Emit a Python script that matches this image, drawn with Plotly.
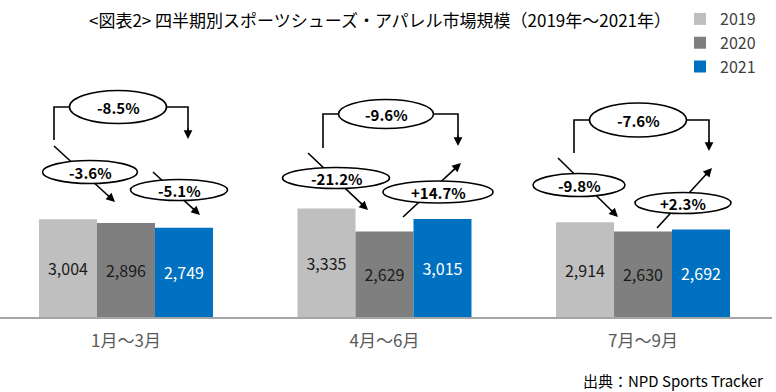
import plotly.graph_objects as go

categories = ["1月～3月", "4月～6月", "7月～9月"]
years = ["2019", "2020", "2021"]
v2019 = [3004, 3335, 2914]
v2020 = [2896, 2629, 2630]
v2021 = [2749, 3015, 2692]
chg_20_vs_19 = ["-3.6%", "-21.2%", "-9.8%"]
chg_21_vs_20 = ["-5.1%", "+14.7%", "+2.3%"]
chg_21_vs_19 = ["-8.5%", "-9.6%", "-7.6%"]

colors = ["#bfbfbf", "#7f7f7f", "#0070c0"]
text_colors = ["#1a1a1a", "#1a1a1a", "#ffffff"]
FONT = "Noto Sans CJK JP"

W, H = 776, 392
ML, MR, MT, MB = 0, 4, 60, 75
PW = W - ML - MR
PH = H - MT - MB
XR = [-0.4874, 2.499]
YMAX = 7908

def dx(px):
    return XR[0] + (px - ML) / PW * (XR[1] - XR[0])

def dy(py):
    return (MT + PH - py) / PH * YMAX

fig = go.Figure()
for name, vals, c, tc in zip(years, [v2019, v2020, v2021], colors, text_colors):
    fig.add_trace(go.Bar(
        x=list(range(len(categories))), y=vals, name=name,
        marker=dict(color=c, line=dict(width=0)),
        texttemplate="%{y:,}", textposition="inside", insidetextanchor="middle",
        textfont=dict(family=FONT, size=16, color=tc),
        cliponaxis=False,
    ))

# decoration layout (pixel estimates) per group
groups = [
    dict(top=(118, 107, 97, 33), bl=(54, 140), br=(188, 139),
         la=((54, 146), (115, 202)), le=(90, 172, 95, 23),
         ra=((153, 172), (200, 215)), re=(179, 190, 97, 21)),
    dict(top=(386, 114, 95, 29), bl=(323, 148), br=(458, 146),
         la=((308, 153), (368, 210)), le=(336, 178, 107, 21),
         ra=((403, 217), (461, 163)), re=(438, 192, 110, 22)),
    dict(top=(638, 120, 97, 34), bl=(574, 153), br=(709, 151),
         la=((558, 158), (618, 217)), le=(579, 185, 92, 23),
         ra=((657, 228), (712, 168)), re=(683, 203, 96, 21)),
]

shapes = []
annotations = []
LW = 1.6

def arrowhead(tail, tip):
    (x0, y0), (x1, y1) = tail, tip
    L = ((x1 - x0) ** 2 + (y1 - y0) ** 2) ** 0.5
    k = 12 / L
    bx, by = x1 - (x1 - x0) * k, y1 - (y1 - y0) * k
    annotations.append(dict(
        x=dx(x1), y=dy(y1), ax=dx(bx), ay=dy(by), xref="x", yref="y",
        axref="x", ayref="y", text="", showarrow=True, arrowhead=2,
        arrowsize=1.1, arrowwidth=LW, arrowcolor="black", standoff=0, startstandoff=0))

def ellipse(cx, cy, w, h, label):
    shapes.append(dict(type="circle", xref="x", yref="y",
                       x0=dx(cx - w / 2), x1=dx(cx + w / 2), y0=dy(cy + h / 2), y1=dy(cy - h / 2),
                       fillcolor="white", line=dict(color="black", width=LW), layer="above"))
    annotations.append(dict(x=dx(cx), y=dy(cy), xref="x", yref="y", text=f"<b>{label}</b>",
                            showarrow=False, font=dict(family=FONT, size=15, color="black")))

for i, g in enumerate(groups):
    cx, cy, w, h = g["top"]
    blx, bly = g["bl"]
    brx, bry = g["br"]
    shapes.append(dict(type="path", xref="x", yref="y", layer="above",
                       path=f"M {dx(blx)},{dy(bly)} L {dx(blx)},{dy(cy)} L {dx(brx)},{dy(cy)} L {dx(brx)},{dy(bry - 6)}",
                       line=dict(color="black", width=LW)))
    for key in ["la", "ra"]:
        (tx, ty), (hx, hy) = g[key]
        shapes.append(dict(type="line", xref="x", yref="y", layer="above",
                           x0=dx(tx), y0=dy(ty), x1=dx(hx - (hx - tx) * 0.08), y1=dy(hy - (hy - ty) * 0.08),
                           line=dict(color="black", width=LW)))
for i, g in enumerate(groups):
    ellipse(*g["top"], chg_21_vs_19[i])
    ellipse(*g["le"], chg_20_vs_19[i])
    ellipse(*g["re"], chg_21_vs_20[i])
    arrowhead((g["br"][0], g["top"][1]), g["br"])
    arrowhead(*g["la"])
    arrowhead(*g["ra"])

annotations.append(dict(text="出典：NPD Sports Tracker", xref="paper", yref="paper",
                        x=765 / PW, y=-(380 - MT - PH) / PH, xanchor="right", yanchor="middle",
                        showarrow=False, font=dict(family=FONT, size=15, color="black")))

fig.update_layout(
    width=W, height=H, margin=dict(l=ML, r=MR, t=MT, b=MB, autoexpand=False),
    paper_bgcolor="white", plot_bgcolor="white",
    barmode="group", bargap=0.327, bargroupgap=0,
    title=dict(text="<図表2> 四半期別スポーツシューズ・アパレル市場規模（2019年～2021年）",
               x=380 / W, xanchor="center", xref="container",
               y=1 - 21 / H, yanchor="middle", yref="container",
               font=dict(family=FONT, size=17, color="black")),
    legend=dict(xref="container", yref="container", x=680 / W, y=1 - 2 / H,
                xanchor="left", yanchor="top", font=dict(family=FONT, size=16, color="#404040"),
                bgcolor="rgba(0,0,0,0)", itemwidth=30, tracegroupgap=0),
    xaxis=dict(tickmode="array", tickvals=list(range(len(categories))), ticktext=categories,
               range=XR, showgrid=False, zeroline=False, showline=True, linecolor="#a6a6a6",
               linewidth=1.5, ticks="", tickfont=dict(family=FONT, size=17, color="#595959"),
               ticklabelstandoff=8),
    yaxis=dict(range=[0, YMAX], visible=False),
    shapes=shapes, annotations=annotations,
    showlegend=True,
)
fig.write_html("out.html", config={"displayModeBar": False},
               post_script="document.body.style.margin='0';document.body.style.padding='0';")
